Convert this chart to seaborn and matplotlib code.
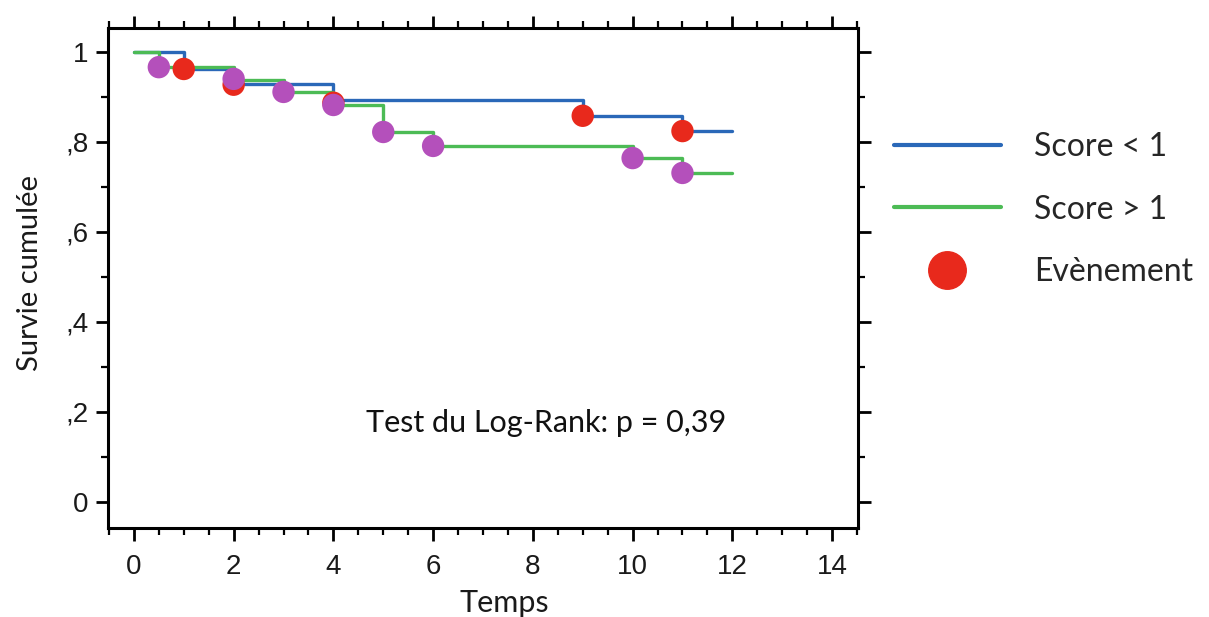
import numpy as np
import pandas as pd
import matplotlib
matplotlib.use('Agg')
import matplotlib.pyplot as plt
import seaborn as sns
from matplotlib.lines import Line2D
from matplotlib.ticker import MultipleLocator, FuncFormatter

# Kaplan-Meier curves
blue_t = [0, 1, 2, 4, 9, 11, 12]
blue_s = [1.0, 0.962, 0.929, 0.893, 0.858, 0.824, 0.824]
green_t = [0, 0.5, 2, 3, 4, 5, 6, 10, 11, 12]
green_s = [1.0, 0.966, 0.938, 0.911, 0.882, 0.822, 0.791, 0.764, 0.731, 0.731]

# event markers
red_t = [1, 2, 4, 9, 11]
red_s = [0.962, 0.927, 0.887, 0.858, 0.824]
purple_t = [0.5, 2, 3, 4, 5, 6, 10, 11]
purple_s = [0.966, 0.940, 0.911, 0.882, 0.822, 0.791, 0.764, 0.731]

labels = ['Score < 1', 'Score > 1', 'Evènement']
x_ticks = [0, 2, 4, 6, 8, 10, 12, 14]
y_ticks = [0, 0.2, 0.4, 0.6, 0.8, 1.0]

BLUE = '#2a68b8'
GREEN = '#4cbb55'
RED = '#e8291c'
PURPLE = '#b450bb'
TXT = ['Lato', 'DejaVu Sans']

sns.set_theme(style='white')
plt.rcParams['font.family'] = ['Liberation Sans', 'DejaVu Sans']

fig = plt.figure(figsize=(12.09, 6.17), dpi=100)
ax = fig.add_axes([0.0893, 0.1442, 0.6204, 0.8104])

df_b = pd.DataFrame({'t': blue_t, 's': blue_s})
df_g = pd.DataFrame({'t': green_t, 's': green_s})
sns.lineplot(data=df_b, x='t', y='s', ax=ax, color=BLUE, lw=2.4,
             drawstyle='steps-post', estimator=None, zorder=2)
sns.lineplot(data=df_g, x='t', y='s', ax=ax, color=GREEN, lw=2.4,
             drawstyle='steps-post', estimator=None, zorder=3)

sns.scatterplot(x=red_t, y=red_s, ax=ax, color=RED, s=260, edgecolor='none', zorder=4)
sns.scatterplot(x=purple_t, y=purple_s, ax=ax, color=PURPLE, s=260, edgecolor='none', zorder=5)

ax.set_xlim(-0.52, 14.52)
ax.set_ylim(-0.058, 1.053)
ax.set_xticks(x_ticks)
ax.set_yticks(y_ticks)
ax.xaxis.set_minor_locator(MultipleLocator(0.5))
ax.yaxis.set_minor_locator(MultipleLocator(0.1))


def fr_fmt(v, pos):
    if abs(v) < 1e-9:
        return '0'
    if abs(v - 1) < 1e-9:
        return '1'
    return ('%.1f' % v).replace('0.', ',')


ax.yaxis.set_major_formatter(FuncFormatter(fr_fmt))

for sp in ax.spines.values():
    sp.set_visible(True)
    sp.set_color('black')
    sp.set_linewidth(2.2)

ax.tick_params(axis='both', which='major', direction='out', length=9, width=2,
               color='black', labelsize=20, labelcolor='#1a1a1a',
               top=True, right=True, bottom=True, left=True,
               labeltop=False, labelright=False)
ax.tick_params(axis='x', which='major', pad=10)
ax.tick_params(axis='y', which='major', pad=5)
ax.tick_params(axis='both', which='minor', direction='out', length=5, width=1.6,
               color='black', top=True, right=True, bottom=True, left=True)
for lab in ax.get_xticklabels() + ax.get_yticklabels():
    lab.set_family(['Liberation Sans', 'DejaVu Sans'])

ax.set_xlabel('Temps', fontsize=22, family=TXT, color='#1a1a1a')
ax.set_ylabel('Survie cumulée', fontsize=21, family=TXT, color='#1a1a1a')
ax.xaxis.label.set_va('center')
ax.yaxis.label.set_va('center')
ax.xaxis.set_label_coords(0.528, -0.15)
ax.yaxis.set_label_coords(-0.104, 0.51)

ax.text(4.66, 0.176, 'Test du Log-Rank: p = 0,39', fontsize=22,
        family=TXT, va='center', ha='left', color='#111111')

handles = [
    Line2D([0], [0], color=BLUE, lw=3),
    Line2D([0], [0], color=GREEN, lw=3),
    Line2D([0], [0], color=RED, lw=0, marker='o', markersize=27),
]
fig.legend(handles, labels, loc='upper left', bbox_to_anchor=(0.7262, 0.812),
           frameon=False, borderpad=0, handlelength=3.35,
           handletextpad=1.03, labelspacing=1.02,
           prop={'family': TXT, 'size': 23})

fig.savefig('out.png', dpi=100, facecolor='white')
